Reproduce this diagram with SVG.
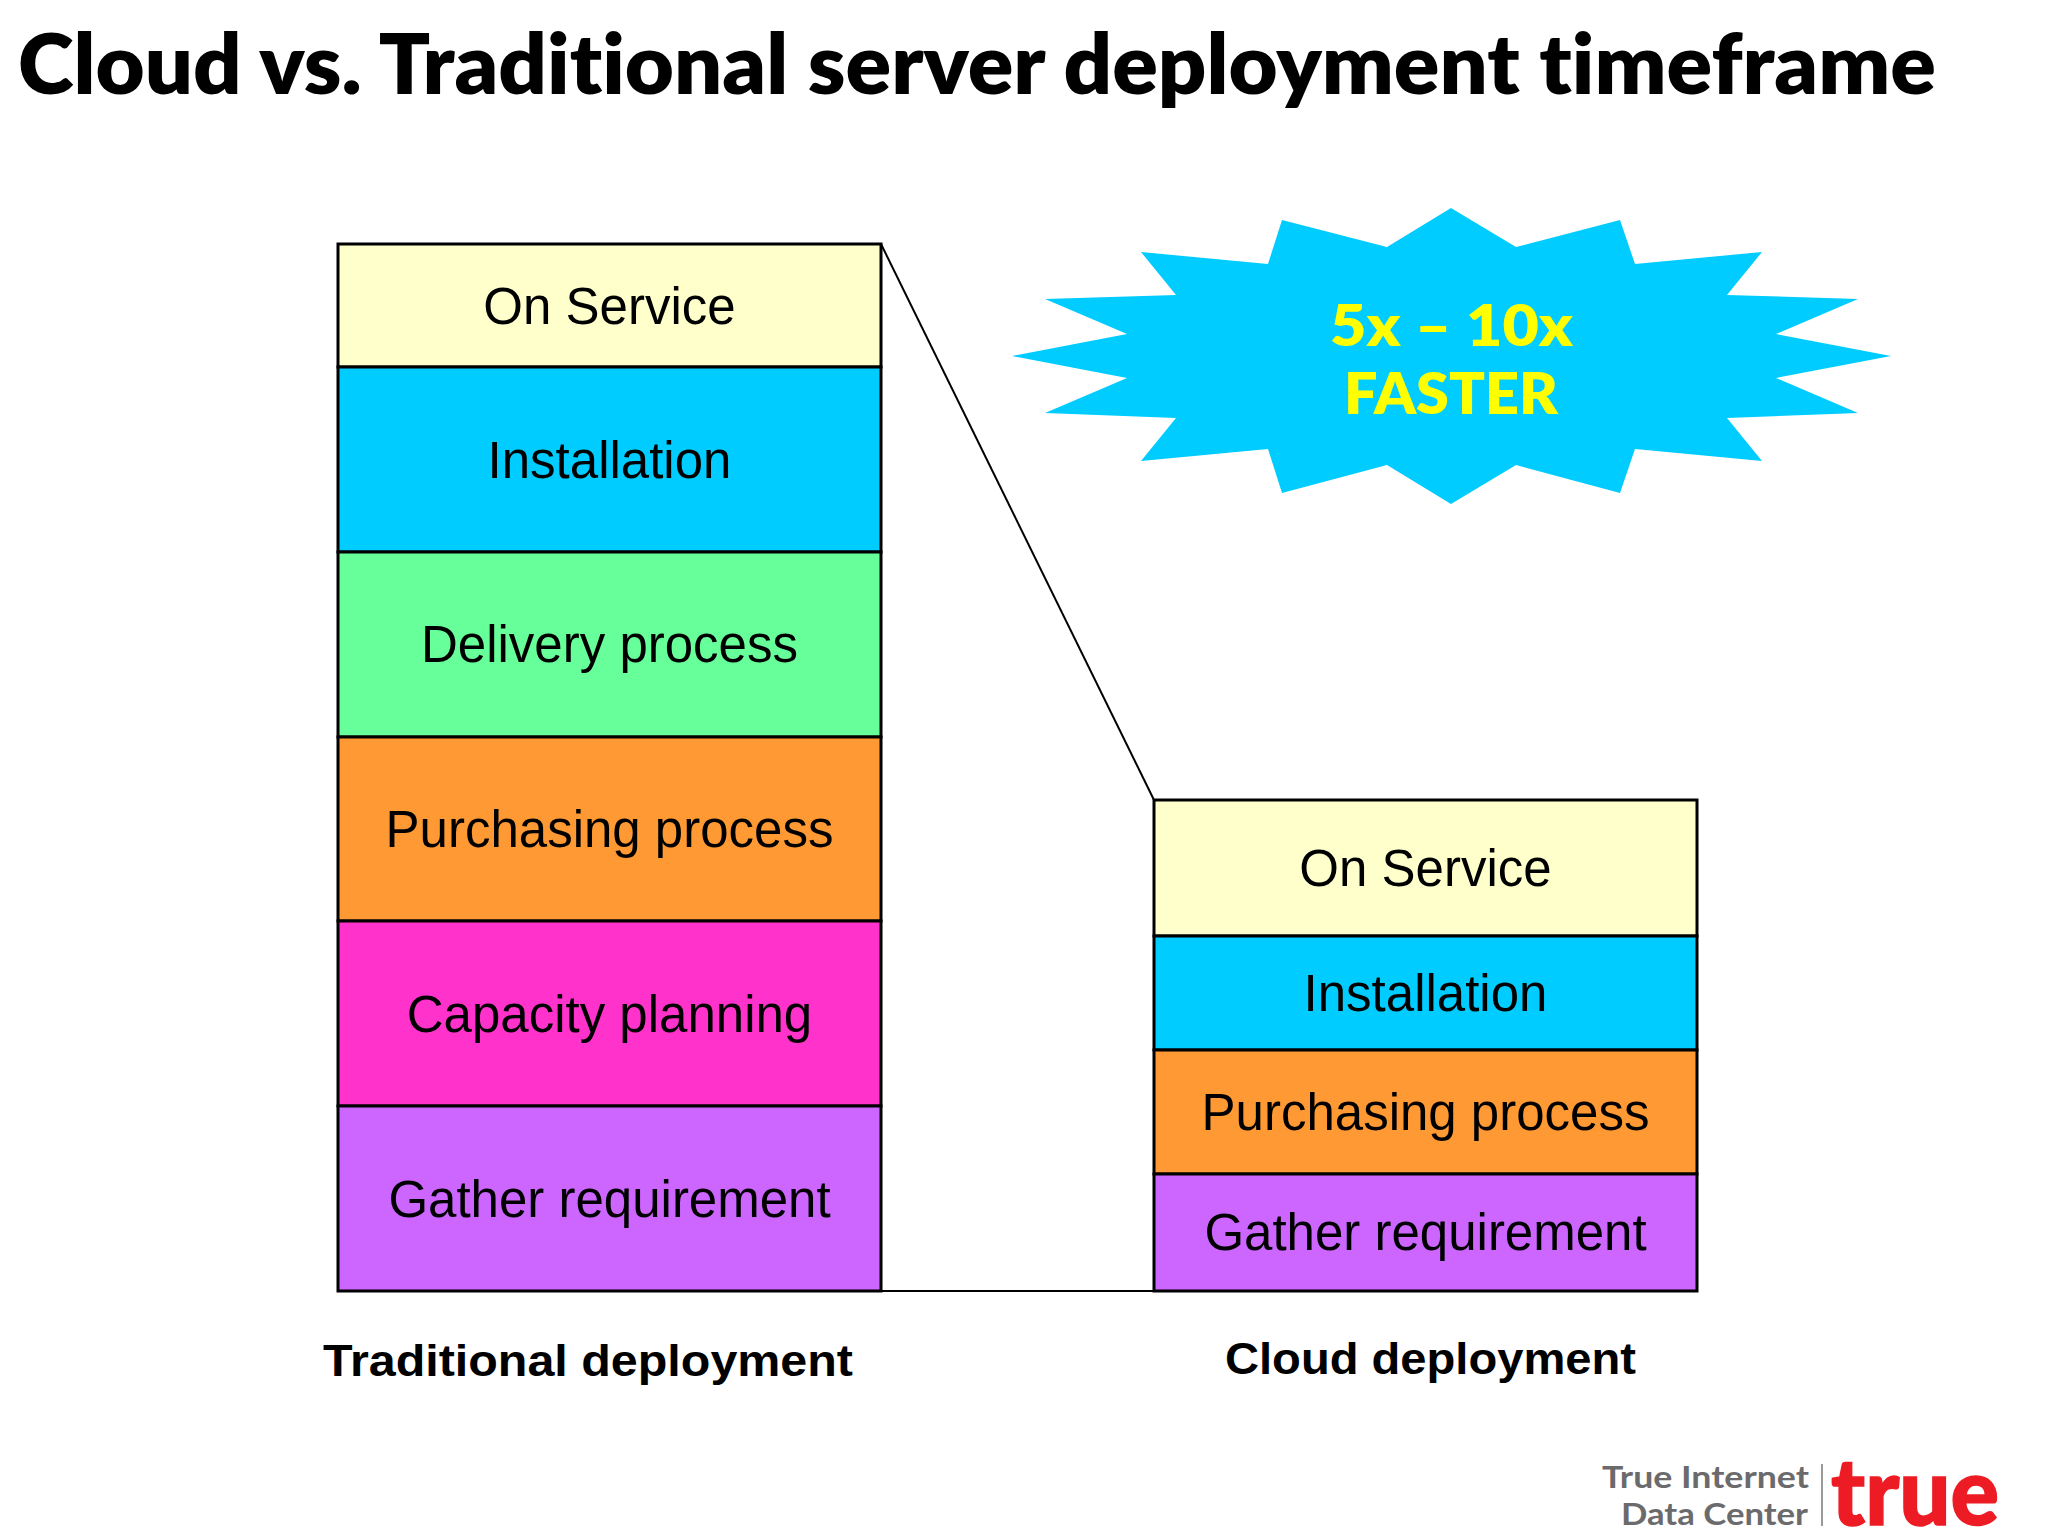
<svg xmlns="http://www.w3.org/2000/svg" width="2048" height="1536" viewBox="0 0 2048 1536">
<style>
text{font-variant-ligatures:none}
.box{stroke:#000;stroke-width:3}
.lbl{font-family:"Liberation Sans",Arial,sans-serif;font-size:51px;text-anchor:middle;fill:#000}
.cap{font-family:"Liberation Sans",Arial,sans-serif;font-size:44px;font-weight:bold;fill:#000}
.star{font-family:Lato,Arial,sans-serif;font-size:56px;font-weight:800;fill:#FFFF00}
.logo{font-family:Lato,Arial,sans-serif;font-size:30.5px;font-weight:700;fill:#6b6b6d}
.c1{fill:#FFFFCC}.c2{fill:#00CCFF}.c3{fill:#66FF99}.c4{fill:#FF9933}.c5{fill:#FF33CC}.c6{fill:#CC66FF}
</style>
<rect width="2048" height="1536" fill="#fff"/>
<text x="18" y="94" font-family="Lato,sans-serif" font-weight="800" font-size="83" textLength="1918" lengthAdjust="spacingAndGlyphs" fill="#000">Cloud vs. Traditional server deployment timeframe</text>
<g id="connectors" fill="none" stroke="#000" stroke-width="2">
<path d="M881 244L1154 800"/>
<path d="M881 1291H1154"/>
</g>
<g id="trad-on-service"><rect class="box c1" x="338" y="244" width="543" height="123"/><text class="lbl" x="609.5" y="324">On Service</text></g>
<g id="trad-installation"><rect class="box c2" x="338" y="367" width="543" height="185"/><text class="lbl" x="609.5" y="478">Installation</text></g>
<g id="trad-delivery"><rect class="box c3" x="338" y="552" width="543" height="185"/><text class="lbl" x="609.5" y="662">Delivery process</text></g>
<g id="trad-purchasing"><rect class="box c4" x="338" y="737" width="543" height="184"/><text class="lbl" x="609.5" y="847">Purchasing process</text></g>
<g id="trad-capacity"><rect class="box c5" x="338" y="921" width="543" height="185"/><text class="lbl" x="609.5" y="1032">Capacity planning</text></g>
<g id="trad-gather"><rect class="box c6" x="338" y="1106" width="543" height="185"/><text class="lbl" x="609.5" y="1217">Gather requirement</text></g>
<g id="cloud-on-service"><rect class="box c1" x="1154" y="800" width="543" height="136"/><text class="lbl" x="1425.5" y="886">On Service</text></g>
<g id="cloud-installation"><rect class="box c2" x="1154" y="936" width="543" height="114"/><text class="lbl" x="1425.5" y="1011">Installation</text></g>
<g id="cloud-purchasing"><rect class="box c4" x="1154" y="1050" width="543" height="124"/><text class="lbl" x="1425.5" y="1130">Purchasing process</text></g>
<g id="cloud-gather"><rect class="box c6" x="1154" y="1174" width="543" height="117"/><text class="lbl" x="1425.5" y="1250">Gather requirement</text></g>
<g id="traditional-label"><text class="cap" x="323" y="1376" textLength="530" lengthAdjust="spacingAndGlyphs">Traditional deployment</text></g>
<g id="cloud-label"><text class="cap" x="1225" y="1374" textLength="411" lengthAdjust="spacingAndGlyphs">Cloud deployment</text></g>
<g id="burst">
<polygon fill="#00CCFF" points="1451,208 1516,247 1620,220 1635,264 1762,252 1727,295 1858,299 1776,334 1891,356 1776,378 1858,413 1727,418 1762,461 1635,449 1620,493 1516,465 1451,504 1387,465 1282,493 1268,449 1141,461 1176,418 1045,413 1127,378 1012,356 1127,334 1045,299 1176,295 1141,252 1268,264 1282,220 1387,247"/>
<text class="star" x="1330" y="346" textLength="243" lengthAdjust="spacingAndGlyphs">5x – 10x</text>
<text class="star" x="1344" y="414" textLength="214" lengthAdjust="spacingAndGlyphs">FASTER</text>
</g>
<g id="logo">
<text class="logo" x="1602" y="1488" textLength="207" lengthAdjust="spacingAndGlyphs">True Internet</text>
<text class="logo" x="1621" y="1525" textLength="187" lengthAdjust="spacingAndGlyphs">Data Center</text>
<path d="M1822 1464V1526" stroke="#777" stroke-width="1.5"/>
<text x="1831" y="1525" font-family="Lato,sans-serif" font-weight="900" font-size="94" fill="#ED1C24" stroke="#ED1C24" stroke-width="1.5" textLength="168" lengthAdjust="spacingAndGlyphs">true</text>
</g>
</svg>
